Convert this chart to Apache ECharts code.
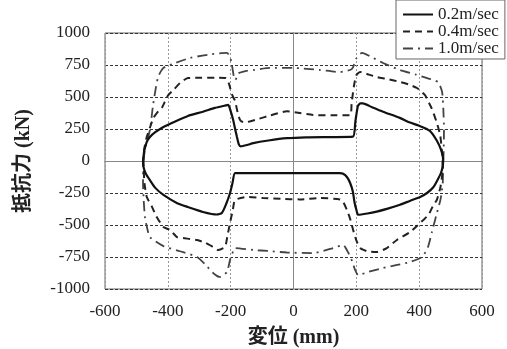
<!DOCTYPE html>
<html>
<head>
<meta charset="utf-8">
<script src="https://cdn.jsdelivr.net/npm/echarts@6/dist/echarts.min.js"></script>
<style>
html,body{margin:0;padding:0;background:#fff;}
#c{width:507px;height:349px;}
</style>
</head>
<body>
<div id="c"></div>
<script>
const seriesNames = ['0.2m/sec', '0.4m/sec', '1.0m/sec'];
const xTicks = { min: -600, max: 600, step: 200 };
const yTicks = { min: -1000, max: 1000, step: 250 };

const loop02 = [[-479,0],[-475,80],[-467,150],[-457,188],[-440,225],[-414,266],[-380,305],[-336,352],[-288,385],[-250,415],[-220,432],[-208,438],[-200,390],[-192,320],[-185,240],[-180,188],[-174,130],[-168,115],[-148,125],[-128,140],[-80,160],[-21,178],[40,185],[120,187],[189,190],[197,310],[205,430],[213,450],[221,450],[250,420],[285,385],[340,335],[371,300],[400,275],[434,236],[456,160],[470,85],[476,20],[476,-20],[470,-90],[458,-150],[445,-205],[425,-250],[403,-281],[370,-312],[339,-342],[300,-372],[265,-395],[235,-410],[206,-420],[200,-380],[194,-320],[189,-240],[180,-170],[170,-125],[158,-100],[148,-94],[80,-94],[20,-94],[-60,-95],[-140,-95],[-186,-95],[-194,-170],[-202,-250],[-215,-340],[-228,-406],[-244,-418],[-288,-398],[-336,-360],[-370,-330],[-414,-265],[-440,-210],[-457,-150],[-470,-100],[-477,-50],[-479,0]];

const loop04 = [[-478,-20],[-476,80],[-468,180],[-457,260],[-445,340],[-430,390],[-418,420],[-400,510],[-380,560],[-361,610],[-336,648],[-300,650],[-250,650],[-215,648],[-205,600],[-196,520],[-186,470],[-178,380],[-170,320],[-160,305],[-148,305],[-110,330],[-75,355],[-21,388],[20,375],[62,360],[120,357],[180,357],[185,450],[192,580],[200,670],[212,695],[240,675],[265,656],[300,640],[339,617],[370,595],[393,570],[418,516],[428,470],[440,410],[456,300],[467,200],[473,60],[475,-60],[468,-200],[456,-305],[445,-345],[430,-420],[413,-461],[403,-484],[371,-555],[329,-617],[297,-680],[265,-711],[235,-705],[212,-680],[200,-620],[190,-540],[180,-450],[170,-383],[158,-320],[148,-300],[84,-289],[20,-300],[-40,-295],[-97,-289],[-148,-281],[-186,-305],[-193,-380],[-202,-484],[-210,-580],[-218,-672],[-240,-695],[-256,-672],[-280,-640],[-307,-617],[-352,-602],[-371,-594],[-393,-539],[-414,-516],[-437,-430],[-450,-360],[-467,-281],[-474,-180],[-478,-20]];

const loop10 = [[-478,0],[-472,100],[-457,242],[-448,420],[-441,531],[-431,656],[-414,727],[-383,760],[-329,805],[-260,835],[-212,844],[-202,812],[-196,750],[-190,660],[-185,633],[-175,685],[-150,705],[-128,711],[-75,727],[0,727],[84,711],[148,695],[180,711],[189,730],[200,800],[218,844],[250,810],[285,766],[339,711],[390,675],[425,648],[460,617],[473,539],[477,400],[479,242],[478,80],[476,-60],[475,-172],[468,-300],[455,-420],[440,-560],[428,-672],[409,-750],[371,-789],[330,-812],[285,-836],[240,-865],[206,-891],[195,-845],[189,-797],[175,-720],[158,-656],[126,-680],[62,-719],[-21,-715],[-80,-703],[-128,-695],[-186,-680],[-196,-730],[-202,-773],[-212,-867],[-234,-906],[-256,-875],[-280,-810],[-307,-750],[-361,-705],[-414,-665],[-457,-594],[-468,-500],[-473,-437],[-477,-300],[-479,-172],[-478,0]];

const serif = "'Liberation Serif', 'Noto Sans CJK JP', serif";
const chart = echarts.init(document.getElementById('c'), null, { renderer: 'canvas' });

chart.setOption({
  animation: false,
  backgroundColor: '#fff',
  grid: { left: 105, right: 25, top: 33, bottom: 60, show: true, borderColor: '#666', borderWidth: 1, containLabel: false, outerBoundsMode: 'none' },
  legend: {
    data: seriesNames,
    orient: 'vertical',
    left: 396, top: 0,
    itemWidth: 30, itemHeight: 14, itemGap: 0,
    padding: [6, 6, 2, 6],
    backgroundColor: '#fff',
    borderColor: '#666', borderWidth: 1,
    itemStyle: { color: 'rgba(0,0,0,0)', borderWidth: 0, opacity: 0 },
    textStyle: { fontFamily: serif, fontSize: 17, color: '#222' },
    z: 10
  },
  xAxis: {
    type: 'value', min: xTicks.min, max: xTicks.max, interval: xTicks.step,
    name: '変位 (mm)', nameLocation: 'middle', nameGap: 39,
    nameTextStyle: { fontFamily: serif, fontSize: 20, fontWeight: 'bold', color: '#222' },
    axisLine: { show: true, lineStyle: { color: '#666', width: 1 } },
    axisTick: { show: false },
    axisLabel: { fontFamily: serif, fontSize: 17, color: '#222', margin: 14, formatter: v => String(v) },
    splitLine: { show: true, lineStyle: { color: '#999', type: [2, 2], width: 1 } }
  },
  yAxis: {
    type: 'value', min: yTicks.min, max: yTicks.max, interval: yTicks.step,
    name: '抵抗力 (kN)', nameLocation: 'middle', nameGap: 71,
    nameTextStyle: { fontFamily: serif, fontSize: 20, fontWeight: 'bold', color: '#222' },
    axisLine: { show: true, lineStyle: { color: '#666', width: 1 } },
    axisTick: { show: false },
    axisLabel: { fontFamily: serif, fontSize: 17, color: '#222', margin: 15, formatter: v => String(v) },
    splitLine: { show: true, lineStyle: { color: '#333', type: [3, 2], width: 1 } }
  },
  series: [
    {
      name: seriesNames[0], type: 'line', data: loop02, symbol: 'none', smooth: 0.2,
      lineStyle: { color: '#111', width: 2.2, type: 'solid' }, itemStyle: { color: '#111' },
      z: 5,
      markLine: {
        silent: true, symbol: 'none', label: { show: false },
        lineStyle: { color: '#888', type: 'solid', width: 1 },
        data: [{ xAxis: 0 }, { yAxis: 0 }],
        z: 1
      }
    },
    {
      name: seriesNames[1], type: 'line', data: loop04, symbol: 'none', smooth: 0.2,
      lineStyle: { color: '#222', width: 2, type: [7, 5] }, itemStyle: { color: '#222' }, z: 4
    },
    {
      name: seriesNames[2], type: 'line', data: loop10, symbol: 'none', smooth: 0.2,
      lineStyle: { color: '#444', width: 1.8, type: [10, 5, 2, 5] }, itemStyle: { color: '#444' }, z: 3
    }
  ]
});
</script>
</body>
</html>
